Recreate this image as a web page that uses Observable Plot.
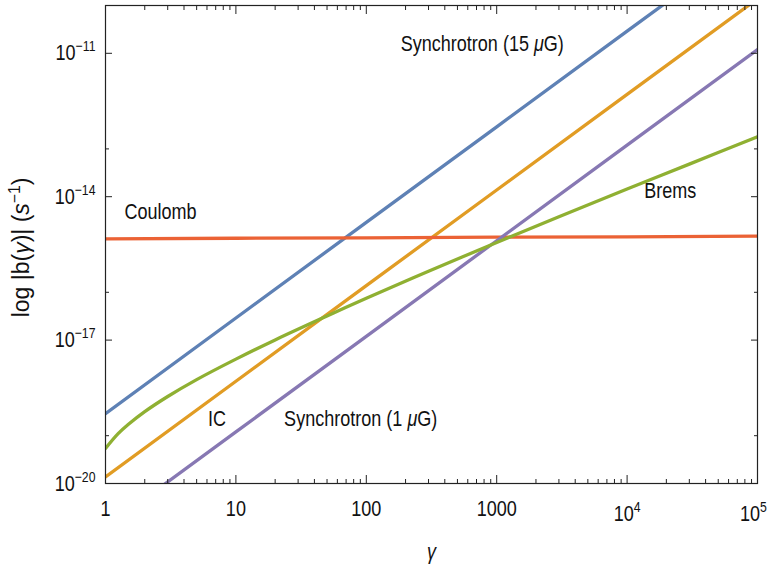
<!DOCTYPE html>
<html><head><meta charset="utf-8">
<script src="https://cdn.jsdelivr.net/npm/d3@7"></script>
<script src="https://cdn.jsdelivr.net/npm/@observablehq/plot@0.6"></script>
<style>
body{margin:0;background:#fff}
#chart svg{font-family:"Liberation Sans",Arial,Helvetica,sans-serif;}
</style>
</head><body><div id="chart"></div>
<script>
// ---- data ----
const seriesNames = ["Synchrotron (15 μG)", "IC", "Brems", "Coulomb", "Synchrotron (1 μG)"];
const seriesColors = ["#5E81B5", "#E19C24", "#8FB032", "#EB6235", "#8778B3"];

const gamma = [1, 10, 100, 1000, 1e4, 1e5];
const synch15 = [2.9e-19, 2.9e-17, 2.9e-15, 2.9e-13, 2.9e-11, 2.9e-9];
const ic = [1.38e-20, 1.38e-18, 1.38e-16, 1.38e-14, 1.38e-12, 1.38e-10];
const synch1 = [1.2e-21, 1.2e-19, 1.2e-17, 1.2e-15, 1.2e-13, 1.2e-11];
const coulomb = [1.31e-15, 1.35e-15, 1.38e-15, 1.42e-15, 1.45e-15, 1.5e-15];

const bremsGamma = [1, 1.25, 1.5, 2, 3, 5, 10, 20, 50, 100, 300, 1000, 3000, 1e4, 3e4, 1e5];
const brems = [5.4e-20, 1.10e-19, 1.73e-19, 3.18e-19, 6.6e-19, 1.49e-18, 4.0e-18, 1.01e-17,
               3.2e-17, 7.5e-17, 2.75e-16, 1.1e-15, 3.8e-15, 1.45e-14, 4.8e-14, 1.79e-13];

const labelText = ["Synchrotron (15 *μ*G)", "Coulomb", "Brems", "IC", "Synchrotron (1 *μ*G)"];
const labelGamma = [775, 2.64, 2.14e4, 7.17, 90.6];
const labelB = [1.56e-11, 4.85e-15, 1.34e-14, 2.24e-19, 2.24e-19];

const xMajor = [1, 10, 100, 1000, 1e4, 1e5];
const xTickLabels = ["1", "10", "100", "1000", "10^{4}", "10^{5}"];
const xMinor = [1, 10, 100, 1000, 1e4].flatMap(d => [2, 3, 4, 5, 6, 7, 8, 9].map(k => k * d));
const yMajor = [1e-20, 1e-17, 1e-14, 1e-11];
const yTickLabels = ["10^{−20}", "10^{−17}", "10^{−14}", "10^{−11}"];
const yMinor = [1e-19, 1e-16, 1e-13, 1e-10];

const xTitle = "*γ*";
const yTitle = "log |b(*γ*)| (*s*^{−1})";

// ---- build table ----
const rows = [];
[[seriesNames[0], gamma, synch15], [seriesNames[1], gamma, ic], [seriesNames[2], bremsGamma, brems],
 [seriesNames[3], gamma, coulomb], [seriesNames[4], gamma, synch1]].forEach(([name, xs, ys]) => {
  xs.forEach((g, i) => rows.push({series: name, gamma: g, b: ys[i]}));
});
const labels = labelText.map((t, i) => ({text: t, gamma: labelGamma[i], b: labelB[i]}));

const FS = 22;
const blank = () => "";

const plot = Plot.plot({
  width: 769,
  height: 569,
  marginLeft: 105,
  marginRight: 12,
  marginTop: 5,
  marginBottom: 86,
  style: {fontSize: FS + "px", background: "#fff", color: "#111"},
  x: {type: "log", domain: [1, 1e5], axis: null, label: null},
  y: {type: "log", domain: [1e-20, 1e-10], axis: null, label: null},
  color: {domain: seriesNames, range: seriesColors},
  marks: [
    Plot.line(rows.filter(d => d.series !== "Brems"), {x: "gamma", y: "b", z: "series", stroke: "series", strokeWidth: 3.3, clip: true}),
    Plot.line(rows.filter(d => d.series === "Brems"), {x: "gamma", y: "b", stroke: "series", strokeWidth: 3.3, curve: "catmull-rom", clip: true}),
    Plot.frame({stroke: "#222", strokeWidth: 1.2}),
    // bottom axis
    Plot.axisX(xMajor, {anchor: "bottom", tickSize: -8, tickPadding: 24.5, tickFormat: d => xTickLabels[xMajor.indexOf(d)], fontSize: FS, label: null, stroke: "#222"}),
    Plot.axisX(xMinor, {anchor: "bottom", tickSize: -4, tickFormat: blank, label: null, stroke: "#222"}),
    // top mirrored ticks
    Plot.axisX(xMajor, {anchor: "top", tickSize: -8, tickFormat: blank, label: null, stroke: "#222"}),
    Plot.axisX(xMinor, {anchor: "top", tickSize: -4, tickFormat: blank, label: null, stroke: "#222"}),
    // left axis
    Plot.axisY(yMajor, {anchor: "left", tickSize: -7, tickPadding: 17, tickFormat: d => yTickLabels[yMajor.indexOf(d)], fontSize: FS, label: null, stroke: "#222"}),
    Plot.axisY(yMinor, {anchor: "left", tickSize: -4, tickFormat: blank, label: null, stroke: "#222"}),
    // right mirrored ticks
    Plot.axisY(yMajor, {anchor: "right", tickSize: -7, tickFormat: blank, label: null, stroke: "#222"}),
    Plot.axisY(yMinor, {anchor: "right", tickSize: -4, tickFormat: blank, label: null, stroke: "#222"}),
    // annotations
    Plot.text(labels, {x: "gamma", y: "b", text: "text", fontSize: FS, fill: "#111"}),
    Plot.text([xTitle], {frameAnchor: "bottom", dy: 68, lineAnchor: "middle", textAnchor: "middle", fontSize: FS, fill: "#111"}),
    Plot.text([yTitle], {frameAnchor: "left", dx: -84, dy: 3, rotate: -90, lineAnchor: "middle", textAnchor: "middle", fontSize: 23, fill: "#111"})
  ]
});

document.getElementById("chart").appendChild(plot);

// rich text: ^{..} superscript, *..* italic; condensed glyphs like the original
const K = 0.82;
d3.select(plot).selectAll("text").each(function() {
  const s = this.textContent;
  const isYTitle = s === yTitle;
  if (/[\^*]/.test(s)) {
    const inXTick = !!this.closest('g[aria-label="x-axis tick label"]');
    const el = d3.select(this);
    this.textContent = "";
    const re = /\^\{([^}]*)\}|\*([^*]*)\*|([^^*]+)/g;
    let m, raised = false, first = true;
    while ((m = re.exec(s))) {
      let t;
      if (m[1] !== undefined) {
        t = el.append("tspan").attr("dy", "-9px").attr("font-size", "0.68em").text(m[1]);
        raised = true;
      } else {
        t = el.append("tspan").text(m[2] !== undefined ? m[2] : m[3]);
        if (m[2] !== undefined) t.attr("font-style", "italic");
        if (raised) { t.attr("dy", "9px"); raised = false; }
        else if (first && inXTick) {
          t.attr("dy", "5px");
          if (s === "10^{5}") t.attr("dx", "-5px");
        }
      }
      first = false;
    }
  }
  if (isYTitle) return;
  const old = this.getAttribute("transform") || "";
  let px = 0;
  const xa = this.x.baseVal.numberOfItems ? this.x.baseVal.getItem(0).value : 0;
  const tl = this.transform.baseVal;
  if (tl.numberOfItems) {
    const mm = tl.consolidate().matrix;
    px = mm.a * xa + mm.e;
  } else px = xa;
  this.setAttribute("transform", `translate(${px},0) scale(${K},1) translate(${-px},0) ${old}`);
});
</script>
</body></html>
